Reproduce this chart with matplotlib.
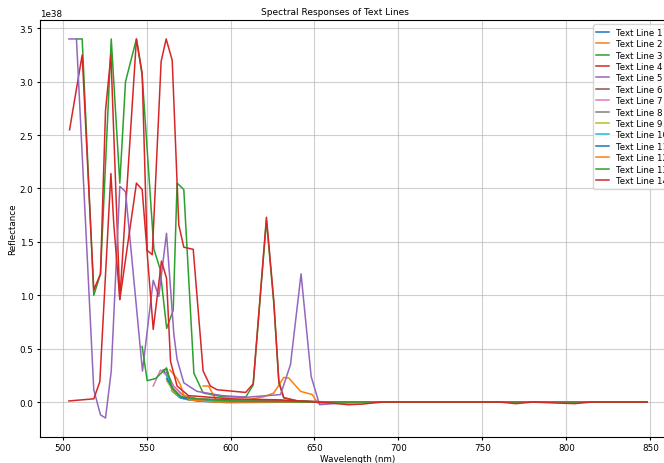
import numpy as np
import matplotlib
matplotlib.use("Agg")
import matplotlib.pyplot as plt

# reflectance values are in units of 1e38
SCALE = 1e38

labels = [f"Text Line {i}" for i in range(1, 15)]

wl_1 = [560, 563, 566, 570, 575, 585, 600, 650, 700, 848]
val_1 = [0.30, 0.22, 0.10, 0.04, 0.02, 0.01, 0.0, 0.0, 0.0, 0.0]

wl_2 = [583.7, 587, 592, 600, 610, 620, 625.8, 631.7, 634.7, 641.7, 648.6, 652, 660, 700, 848]
val_2 = [0.15, 0.15, 0.0, 0.01, 0.02, 0.05, 0.085, 0.23, 0.225, 0.10, 0.07, -0.01, 0.0, 0.0, 0.0]

wl_3 = [508.3, 511.7, 518.6, 522.6, 529, 534.1, 537.5, 544, 547.4, 554.4, 558, 562, 565.9,
        568.2, 572.2, 578.2, 583.7, 595, 609, 613.5, 621.4, 625.8, 628.8, 631.7, 640, 655, 700, 848]
val_3 = [3.4, 3.4, 1.0, 1.2, 3.4, 2.05, 3.0, 3.4, 3.06, 1.43, 1.25, 0.69, 0.86,
         2.05, 1.99, 0.27, 0.085, 0.05, 0.045, 0.16, 1.70, 0.92, 0.18, 0.04, 0.01, 0.0, 0.0, 0.0]

wl_4 = [504.2, 511.7, 518.6, 522.6, 525.6, 528.8, 534.1, 544, 547.4, 550.4, 553.4, 558.7, 561.7,
        565.3, 569.2, 572.2, 577.8, 583.7, 588, 592, 609, 613.5, 621.4, 625.8, 628.8, 631.7,
        640, 655, 700, 848]
val_4 = [2.55, 3.25, 1.05, 1.2, 2.73, 3.25, 0.96, 3.4, 3.08, 1.42, 1.38, 3.19, 3.4,
         3.2, 1.66, 1.45, 1.43, 0.29, 0.15, 0.115, 0.09, 0.17, 1.73, 0.94, 0.19, 0.04,
         0.01, 0.0, 0.0, 0.0]

wl_5 = [503.8, 508.3, 518.6, 522.6, 525.6, 529, 534.1, 537.5, 547.6, 554, 557.3, 561.9, 566.3,
        568.2, 572.2, 580, 595, 610, 629.8, 635.7, 642, 648, 653, 665, 700, 848]
val_5 = [3.4, 3.4, 0.115, -0.12, -0.15, 0.29, 2.02, 1.97, 0.29, 1.14, 0.99, 1.58, 0.63,
         0.40, 0.18, 0.10, 0.06, 0.045, 0.07, 0.35, 1.2, 0.24, -0.025, -0.01, 0.0, 0.0]

wl_6 = [562, 566, 572, 580, 600, 620, 640, 660, 848]
val_6 = [0.28, 0.15, 0.06, 0.03, 0.02, 0.015, 0.01, 0.0, 0.0]

wl_7 = [554, 558.3, 562, 566, 572, 590, 650, 848]
val_7 = [0.15, 0.30, 0.25, 0.15, 0.05, 0.01, 0.0, 0.0]

wl_8 = [560, 562.3, 565.3, 570, 580, 600, 650, 848]
val_8 = [0.30, 0.30, 0.10, 0.04, 0.02, 0.01, 0.0, 0.0]

wl_9 = [562, 566, 572, 585, 610, 848]
val_9 = [0.20, 0.10, 0.03, 0.01, 0.0, 0.0]

wl_10 = [562, 565.3, 570.2, 580, 600, 650, 848]
val_10 = [0.25, 0.13, 0.04, 0.02, 0.0, 0.0, 0.0]

wl_11 = [562, 566, 571, 580, 598, 650, 848]
val_11 = [0.22, 0.12, 0.04, 0.01, -0.005, 0.0, 0.0]

wl_12 = [564, 568.2, 570.2, 572, 576, 590, 620, 700, 848]
val_12 = [0.30, 0.22, 0.16, 0.07, 0.02, 0.0, 0.0, 0.0, 0.0]

wl_13 = [547.4, 550.4, 555.4, 561.9, 565.3, 570.2, 580, 600, 650, 848]
val_13 = [0.52, 0.20, 0.22, 0.32, 0.13, 0.05, 0.03, 0.01, 0.0, 0.0]

wl_14 = [503.8, 518.6, 522.2, 528.8, 530.5, 534.1, 544, 547.4, 554, 558.9, 561.9, 564.3,
         568.2, 575, 600, 630, 650, 660, 670, 678, 690, 760, 770, 780, 795, 805, 815, 848]
val_14 = [0.01, 0.03, 0.19, 2.14, 1.67, 0.96, 2.05, 1.99, 0.68, 1.32, 1.16, 0.38,
          0.15, 0.06, 0.03, 0.02, 0.0, -0.01, -0.025, -0.02, 0.0, 0.0, -0.015, 0.0, -0.01,
          -0.015, 0.0, 0.0]

wavelengths = [wl_1, wl_2, wl_3, wl_4, wl_5, wl_6, wl_7, wl_8, wl_9, wl_10, wl_11, wl_12, wl_13, wl_14]
values = [val_1, val_2, val_3, val_4, val_5, val_6, val_7, val_8, val_9, val_10, val_11, val_12, val_13, val_14]

plt.rcParams['font.size'] = 6.3
plt.rcParams['xtick.major.size'] = 2.3
plt.rcParams['ytick.major.size'] = 2.3
plt.rcParams['xtick.major.pad'] = 2.3
plt.rcParams['ytick.major.pad'] = 2.3

fig = plt.figure(figsize=(6.64, 4.64), dpi=100)
ax = fig.add_axes([40 / 664, 26 / 464, 636 / 664, 417 / 464])

for label, wl, val in zip(labels, wavelengths, values):
    ax.plot(wl, np.array(val) * SCALE, label=label, linewidth=1.1)

# the source picture is cropped on the right, so the title sits left of the axes centre
ax.set_title('Spectral Responses of Text Lines', fontsize=6.5, x=0.464, pad=4)
ax.set_xlabel('Wavelength (nm)', fontsize=6.3, labelpad=1)
ax.set_ylabel('Reflectance', fontsize=6.3, labelpad=2)
ax.grid(True, alpha=0.6)
ax.legend(loc='upper right', fontsize=6.2, labelspacing=0.28, handlelength=1.5)

fig.savefig('out.png', dpi=100)
